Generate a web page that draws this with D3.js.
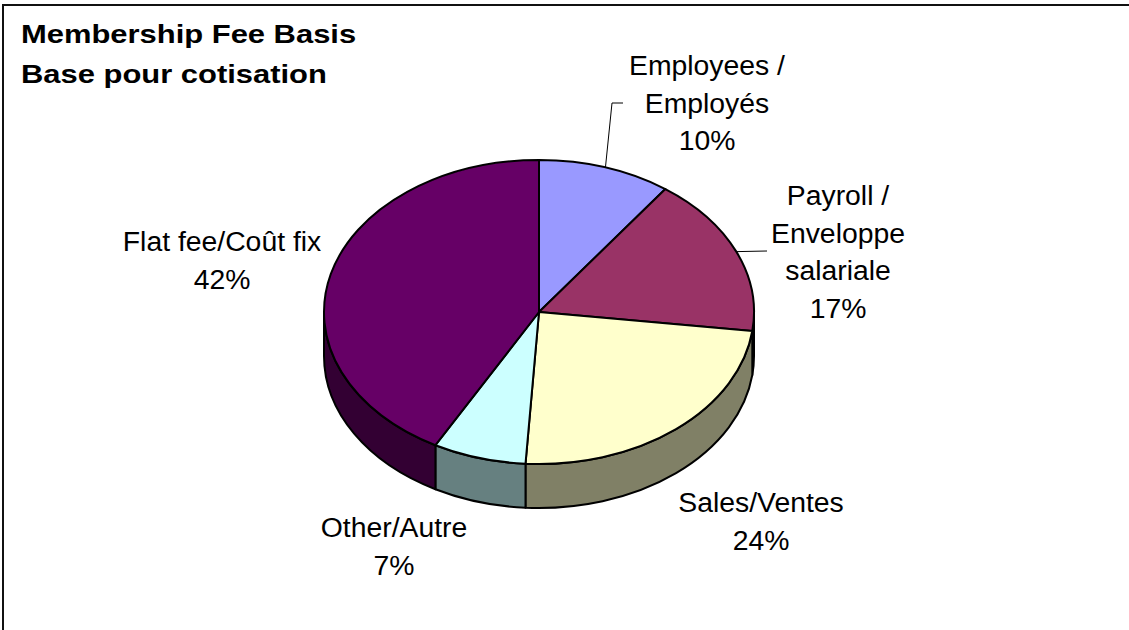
<!DOCTYPE html>
<html>
<head>
<meta charset="utf-8">
<script src="https://cdn.jsdelivr.net/npm/d3@7"></script>
<style>
  html, body { margin: 0; padding: 0; background: #ffffff; }
  svg { display: block; }
  text { font-family: "Liberation Sans", Arial, Helvetica, sans-serif; fill: #000; }
</style>
</head>
<body>
<svg id="chart" width="1129" height="630"></svg>
<script>
// Membership fee basis shares (percent), clockwise from 12 o'clock
const categories = ["Employees", "Payroll", "Sales", "Other", "Flat fee"];
const shares = [10, 17, 24, 7, 42];
const labelLines = [
  ["Employees /", "Employés"],
  ["Payroll /", "Enveloppe", "salariale"],
  ["Sales/Ventes"],
  ["Other/Autre"],
  ["Flat fee/Coût fix"]
];
const titleLines = ["Membership Fee Basis", "Base pour cotisation"];
const topColors = ["#9999ff", "#993366", "#ffffcc", "#ccffff", "#660066"];
const sideColors = ["#4d4d80", "#4d1a33", "#808066", "#668080", "#330033"];

// Layout of the tilted pie
const W = 1129, H = 630;
const cx = 539, cy = 312, rx = 215, ry = 152, depth = 44;

// Label anchors (center x, first baseline) and leader elbows
const labelPos = [
  { x: 707, y: 75 },
  { x: 838, y: 205 },
  { x: 761, y: 512 },
  { x: 394, y: 537 },
  { x: 222, y: 251 }
];
const leaderElbows = [
  [[612, 103], [623, 103]],
  [[767, 251]],
  null, null, null
];
const lineStep = 37.5;
const labelSize = 27, labelSx = 1.05;

const svg = d3.select("#chart");

// chart frame (left and top edges visible)
svg.append("path")
  .attr("d", `M3,${H} V5 H${W}`)
  .attr("fill", "none").attr("stroke", "#111").attr("stroke-width", 2);

const color = d3.scaleOrdinal().domain(categories).range(topColors);
const side = d3.scaleOrdinal().domain(categories).range(sideColors);

const pie = d3.pie().sort(null).value(d => d.v);
const arcs = pie(categories.map((c, i) => ({ c, v: shares[i] })));

// point on the ellipse for an angle measured clockwise from the top
const px = (a) => cx + rx * Math.sin(a);
const py = (a, dy = 0) => cy - ry * Math.cos(a) + dy;

function topPath(d) {
  const a0 = d.startAngle, a1 = d.endAngle;
  const large = (a1 - a0) > Math.PI ? 1 : 0;
  return `M${cx},${cy} L${px(a0)},${py(a0)} A${rx},${ry} 0 ${large} 1 ${px(a1)},${py(a1)} Z`;
}

// visible wall: the portion of the slice lying on the front half (pi/2 .. 3pi/2)
function sidePath(d) {
  const a0 = Math.max(d.startAngle, Math.PI / 2);
  const a1 = Math.min(d.endAngle, 3 * Math.PI / 2);
  if (a1 <= a0) return null;
  const large = (a1 - a0) > Math.PI ? 1 : 0;
  return `M${px(a0)},${py(a0)} A${rx},${ry} 0 ${large} 1 ${px(a1)},${py(a1)}` +
         ` L${px(a1)},${py(a1, depth)} A${rx},${ry} 0 ${large} 0 ${px(a0)},${py(a0, depth)} Z`;
}

const g = svg.append("g");

g.selectAll("path.side")
  .data(arcs.filter(d => sidePath(d)))
  .join("path")
  .attr("class", "side")
  .attr("d", sidePath)
  .attr("fill", d => side(d.data.c))
  .attr("stroke", "#000").attr("stroke-width", 2).attr("stroke-linejoin", "round");

g.selectAll("path.top")
  .data(arcs)
  .join("path")
  .attr("class", "top")
  .attr("d", topPath)
  .attr("fill", d => color(d.data.c))
  .attr("stroke", "#000").attr("stroke-width", 2).attr("stroke-linejoin", "round");

// leader lines
arcs.forEach((d, i) => {
  if (!leaderElbows[i]) return;
  const m = (d.startAngle + d.endAngle) / 2;
  const pts = [[px(m), py(m)], ...leaderElbows[i]];
  svg.append("path")
    .attr("d", d3.line()(pts))
    .attr("fill", "none").attr("stroke", "#000").attr("stroke-width", 1);
});

// data labels
arcs.forEach((d, i) => {
  const lines = [...labelLines[i], `${shares[i]}%`];
  const p = labelPos[i];
  lines.forEach((t, k) => {
    svg.append("text")
      .attr("transform", `translate(${p.x},${p.y + k * lineStep}) scale(${labelSx},1)`)
      .attr("text-anchor", "middle")
      .attr("font-size", labelSize)
      .text(t);
  });
});

// title
titleLines.forEach((t, k) => {
  svg.append("text")
    .attr("transform", `translate(21,${43 + k * 40}) scale(1.19,1)`)
    .attr("font-size", 26)
    .attr("font-weight", "bold")
    .text(t);
});
</script>
</body>
</html>
